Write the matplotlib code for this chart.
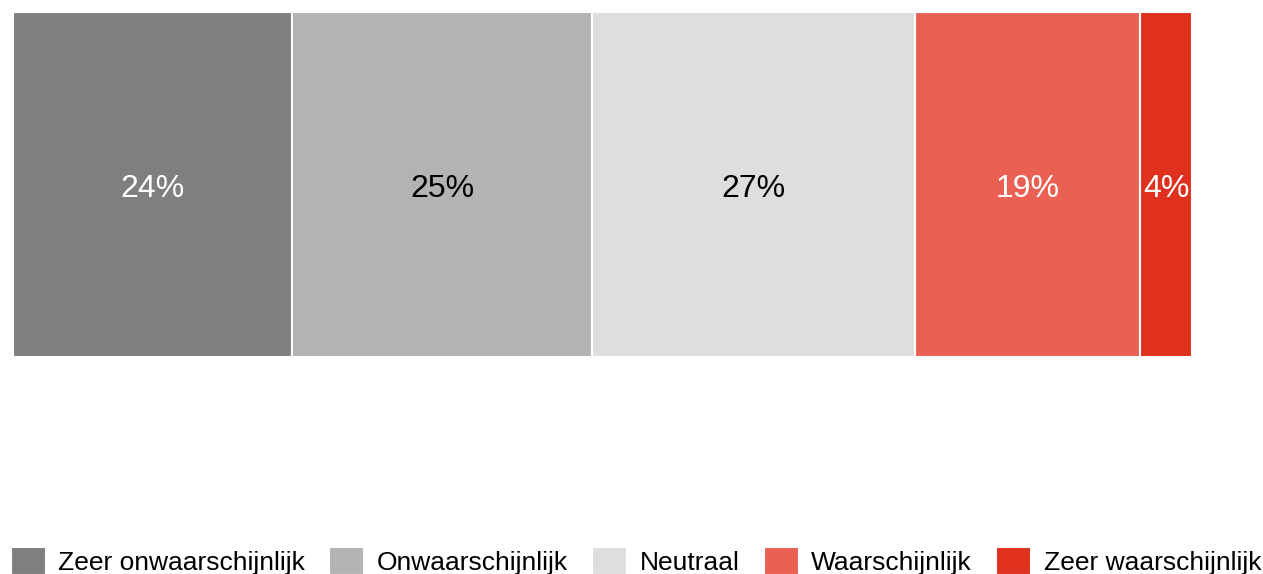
import numpy as np
import matplotlib.pyplot as plt

plt.rcParams['font.family'] = ['Liberation Sans', 'DejaVu Sans']

categories = ["Zeer onwaarschijnlijk", "Onwaarschijnlijk", "Neutraal",
              "Waarschijnlijk", "Zeer waarschijnlijk"]
values = [23.7, 25.4, 27.4, 19.1, 4.4]
labels = ["24%", "25%", "27%", "19%", "4%"]
colors = ["#7f7f7f", "#b3b3b3", "#dedede", "#ea6153", "#e0301e"]
text_colors = ["white", "black", "black", "white", "white"]

fig = plt.figure(figsize=(12.63, 5.74), dpi=100)
ax = fig.add_axes([13/1263, 1 - 357/574, (1192-13)/1263, (357-12)/574])

left = 0
for val, lab, col, tc, cat in zip(values, labels, colors, text_colors, categories):
    ax.barh(0, val, left=left, height=1, color=col, edgecolor='white',
            linewidth=1.5, label=cat)
    ax.text(left + val/2, -0.012, lab, ha='center', va='center', fontsize=23, color=tc)
    left += val

ax.set_xlim(0, sum(values))
ax.set_ylim(-0.5, 0.5)
ax.axis('off')

fig.legend(loc='lower left', bbox_to_anchor=(0, -0.02), ncol=5, frameon=False,
           fontsize=19, handlelength=1.33, handleheight=1.2, handletextpad=0.47,
           columnspacing=0.92, borderaxespad=0)

fig.savefig("out.png", dpi=100)
